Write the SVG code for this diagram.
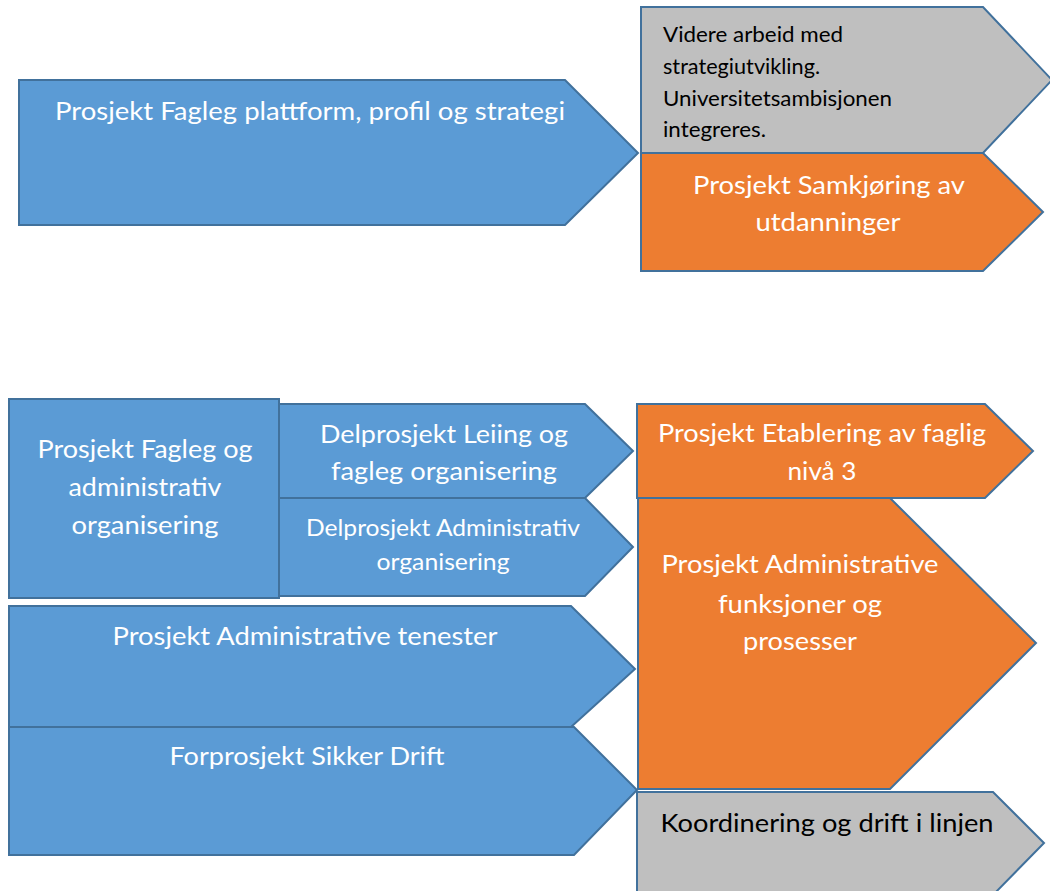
<svg xmlns="http://www.w3.org/2000/svg" width="1050" height="891" viewBox="0 0 1050 891">
<style>
.b{fill:#5B9BD5;stroke:#41719C;stroke-width:2;stroke-linejoin:miter}
.o{fill:#ED7D31;stroke:#41719C;stroke-width:2}
.g{fill:#BFBFBF;stroke:#41719C;stroke-width:2}
text{font-family:Lato,"Open Sans","Liberation Sans",sans-serif;text-anchor:middle;font-size:25px}
.w{fill:#FFFFFF}
.k{fill:#000000}
.s{text-anchor:start;font-size:20.5px}
.m{font-size:22.5px}
</style>
<rect width="1050" height="891" fill="#FFFFFF"/>
<g id="n-plattform">
<polygon class="b" points="19,80 565,80 638,153 565,225 19,225"/>
<text class="w" x="310" y="120" textLength="510" lengthAdjust="spacingAndGlyphs">Prosjekt Fagleg plattform, profil og strategi</text>
</g>
<g id="n-videre">
<polygon class="g" points="641,7 983,7 1052,80 983,153 641,153"/>
<text class="k s" x="663" y="42" textLength="180" lengthAdjust="spacingAndGlyphs">Videre arbeid med</text>
<text class="k s" x="663" y="74" textLength="157" lengthAdjust="spacingAndGlyphs">strategiutvikling.</text>
<text class="k s" x="663" y="106" textLength="229" lengthAdjust="spacingAndGlyphs">Universitetsambisjonen</text>
<text class="k s" x="663" y="137" textLength="103" lengthAdjust="spacingAndGlyphs">integreres.</text>
</g>
<g id="n-samkjoring">
<polygon class="o" points="641,153 983,153 1043,212 983,271 641,271"/>
<text class="w" x="829" y="194" textLength="272" lengthAdjust="spacingAndGlyphs">Prosjekt Samkjøring av</text>
<text class="w" x="828" y="231" textLength="145" lengthAdjust="spacingAndGlyphs">utdanninger</text>
</g>
<g id="n-fagadm">
<rect class="b" x="9" y="399" width="270" height="199"/>
<text class="w" x="145" y="458" textLength="215" lengthAdjust="spacingAndGlyphs">Prosjekt Fagleg og</text>
<text class="w" x="145" y="496" textLength="153" lengthAdjust="spacingAndGlyphs">administrativ</text>
<text class="w" x="145" y="534" textLength="147" lengthAdjust="spacingAndGlyphs">organisering</text>
</g>
<g id="n-leiing">
<polygon class="b" points="279,404 585,404 633,451 585,498 279,498"/>
<text class="w" x="444" y="443" textLength="248" lengthAdjust="spacingAndGlyphs">Delprosjekt Leiing og</text>
<text class="w" x="444" y="480" textLength="226" lengthAdjust="spacingAndGlyphs">fagleg organisering</text>
</g>
<g id="n-admorg">
<polygon class="b" points="279,498 585,498 633,547 585,596 279,596"/>
<text class="w m" x="443" y="536" textLength="274" lengthAdjust="spacingAndGlyphs">Delprosjekt Administrativ</text>
<text class="w m" x="443" y="570" textLength="133" lengthAdjust="spacingAndGlyphs">organisering</text>
</g>
<g id="n-tenester">
<polygon class="b" points="9,606 571,606 635,669 571,727 9,727"/>
<text class="w" x="305" y="645" textLength="385" lengthAdjust="spacingAndGlyphs">Prosjekt Administrative tenester</text>
</g>
<g id="n-sikker">
<polygon class="b" points="9,727 574,727 637,790 574,855 9,855"/>
<text class="w" x="307" y="765" textLength="275" lengthAdjust="spacingAndGlyphs">Forprosjekt Sikker Drift</text>
</g>
<g id="n-etablering">
<polygon class="o" points="637,404 985,404 1033,451 985,498 637,498"/>
<text class="w" x="822" y="442" textLength="328" lengthAdjust="spacingAndGlyphs">Prosjekt Etablering av faglig</text>
<text class="w" x="822" y="480" textLength="69" lengthAdjust="spacingAndGlyphs">nivå 3</text>
</g>
<g id="n-funksjoner">
<polygon class="o" points="638,498 890,498 1036,643 890,789 638,789"/>
<text class="w" x="800" y="573" textLength="277" lengthAdjust="spacingAndGlyphs">Prosjekt Administrative</text>
<text class="w" x="800" y="613" textLength="164" lengthAdjust="spacingAndGlyphs">funksjoner og</text>
<text class="w" x="800" y="650" textLength="114" lengthAdjust="spacingAndGlyphs">prosesser</text>
</g>
<g id="n-koordinering">
<polygon class="g" points="637,792 993,792 1044,843 993,895 637,895"/>
<text class="k" x="827" y="832" textLength="333" lengthAdjust="spacingAndGlyphs">Koordinering og drift i linjen</text>
</g>
</svg>
